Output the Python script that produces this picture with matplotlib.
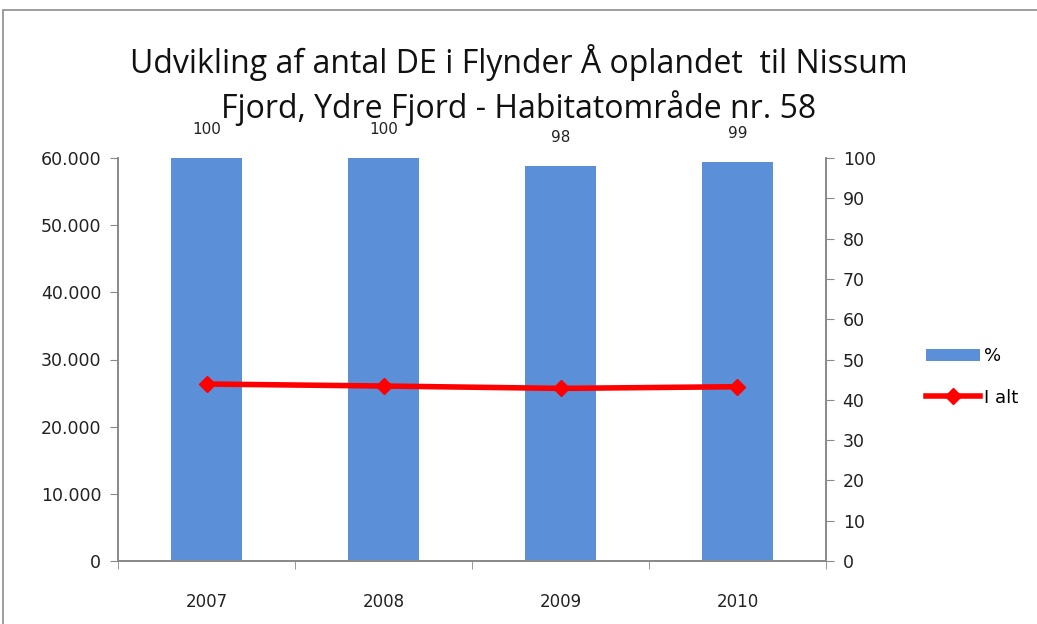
import matplotlib
matplotlib.use("Agg")
import matplotlib.pyplot as plt
from matplotlib.patches import Rectangle
from matplotlib.ticker import FuncFormatter, MultipleLocator, FixedLocator
import numpy as np

years = ["2007", "2008", "2009", "2010"]
pct = [100, 100, 98, 99]
i_alt = [26350, 26050, 25700, 25950]
title = "Udvikling af antal DE i Flynder Å oplandet  til Nissum\nFjord, Ydre Fjord - Habitatområde nr. 58"

W, H = 1037, 624
fig = plt.figure(figsize=(W / 100, H / 100), dpi=100)
fig.patch.set_facecolor("white")

# outer chart frame (cropped on right/bottom)
fig.add_artist(Rectangle((3 / W, -0.1), 1.2, 1 - 10 / H + 0.1, transform=fig.transFigure,
                         fill=False, edgecolor="#8c8c8c", linewidth=1.2))

left, right, top, bottom = 118, 826, 158, 561
ax = fig.add_axes([left / W, 1 - bottom / H, (right - left) / W, (bottom - top) / H])
ax2 = ax.twinx()

x = np.arange(len(years))
bar_color = "#5b8fd8"
bars = ax2.bar(x, pct, width=0.4, color=bar_color, zorder=1, label="%")
ax2.set_ylim(0, 100)
ax2.yaxis.set_major_locator(MultipleLocator(10))
for xi, v in zip(x, pct):
    ax2.annotate(str(v), (xi, v), xytext=(0, 15), textcoords="offset points",
                 ha="center", va="bottom", fontsize=11, color="#222222", family="DejaVu Sans")

ax.set_zorder(ax2.get_zorder() + 1)
ax.patch.set_visible(False)
line, = ax.plot(x, i_alt, color="#ff0000", linewidth=4, marker="D", markersize=8,
                markerfacecolor="#ff0000", markeredgecolor="#ff0000", label="I alt", zorder=3)
ax.set_ylim(0, 60000)
ax.yaxis.set_major_locator(MultipleLocator(10000))
ax.yaxis.set_major_formatter(FuncFormatter(lambda v, p: f"{int(v):,}".replace(",", ".")))
ax.set_xlim(-0.5, len(years) - 0.5)
ax.set_xticks(x)
ax.set_xticklabels(years)
ax.xaxis.set_minor_locator(FixedLocator(np.arange(-0.5, len(years), 1.0)))
ax.tick_params(axis="x", which="major", length=0, pad=23, labelsize=12)
ax.tick_params(axis="x", which="minor", length=6, color="#888888", direction="out")
ax.tick_params(axis="y", length=6, color="#888888", labelsize=12.5, pad=6)
ax2.tick_params(axis="y", length=6, color="#888888", labelsize=12.5, pad=6)

for a in (ax, ax2):
    for s in ("top",):
        a.spines[s].set_visible(False)
    for s in ("left", "right", "bottom"):
        a.spines[s].set_color("#888888")
        a.spines[s].set_linewidth(1.2)
for lbl in ax.get_yticklabels() + ax.get_xticklabels() + ax2.get_yticklabels():
    lbl.set_family("DejaVu Sans")
    lbl.set_color("#222222")

fig.text(0.5, 1 - 85 / H, title, ha="center", va="center", fontsize=23,
         family="Open Sans", linespacing=1.35, color="#111111")

fig.legend(handles=[bars, line], labels=["%", "I alt"], loc="center left",
           bbox_to_anchor=(910 / W, 1 - 377 / H), frameon=False, fontsize=13,
           handlelength=3.0, labelspacing=1.3, handletextpad=0.2)

fig.savefig("out.png", dpi=100)
